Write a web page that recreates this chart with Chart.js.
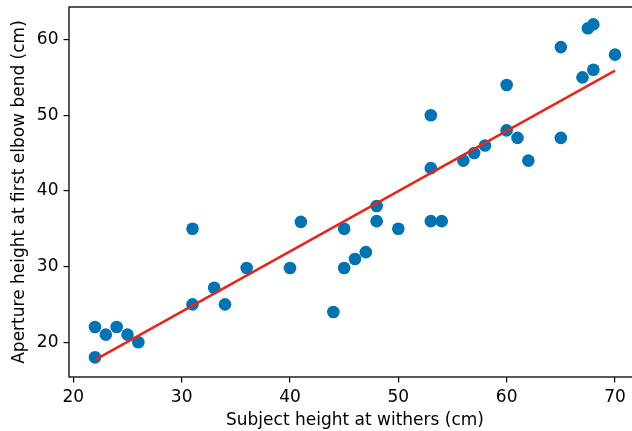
<!DOCTYPE html>
<html>
<head>
<meta charset="utf-8">
<script src="https://cdn.jsdelivr.net/npm/chart.js@4.4.1/dist/chart.umd.min.js"></script>
<style>
  html, body { margin: 0; padding: 0; background: #fff; overflow: hidden; }
  #wrap { width: 650px; height: 431px; }
</style>
</head>
<body>
<div id="wrap"><canvas id="c"></canvas></div>
<script>
/* ── Data ──────────────────────────────────────────────────────────── */
const withers = [22, 22, 23, 24, 25, 26, 31, 31, 33, 34, 36, 40, 41, 44, 45, 45, 46, 47, 48, 48,
                 50, 53, 53, 53, 54, 56, 57, 58, 60, 60, 61, 62, 65, 65, 67, 68, 67.5, 68, 70];
const elbow   = [22, 18, 21, 22, 21, 20, 35, 25, 27.2, 25, 29.8, 29.8, 35.9, 24, 35, 29.8, 31, 31.9, 38, 36,
                 35, 50, 43, 36, 36, 44, 45, 46, 48, 54, 47, 44, 59, 47, 55, 56, 61.5, 62, 58];
const fitX    = [22, 70];
const fitY    = [17.65, 55.9];
const xTicks  = [20, 30, 40, 50, 60, 70];
const yTicks  = [20, 30, 40, 50, 60];

const FONT = "'DejaVu Sans', sans-serif";
const FS   = 17;

/* ── Box around the plot area (matplotlib spines) ─────────────────── */
const frame = {
    id: 'frame',
    afterDatasetsDraw(chart) {
        const { ctx, chartArea: a } = chart;
        ctx.save();
        ctx.strokeStyle = '#000';
        ctx.lineWidth = 1.3;
        ctx.strokeRect(a.left, a.top, a.right - a.left, a.bottom - a.top);
        ctx.restore();
    },
};

/* no extra room for half-labels at the ends of the axes */
const noEdgePad = s => { s.paddingTop = 0; s.paddingBottom = 0; s.paddingLeft = 0; s.paddingRight = 0; };

new Chart(document.getElementById('c'), {
    type: 'scatter',
    data: {
        datasets: [
            {
                label: 'fit',
                type: 'line',
                data: fitX.map((x, i) => ({ x, y: fitY[i] })),
                borderColor: '#e8261f',
                borderWidth: 2.6,
                pointRadius: 0,
                fill: false,
                order: 1,
            },
            {
                label: 'subjects',
                data: withers.map((x, i) => ({ x, y: elbow[i] })),
                backgroundColor: '#0173b2',
                borderWidth: 0,
                pointRadius: 6.3,
                order: 2,
            },
        ],
    },
    options: {
        responsive: true,
        maintainAspectRatio: false,
        animation: false,
        layout: { padding: { top: 7, right: 9, left: 0, bottom: 0 } },
        plugins: { legend: { display: false }, tooltip: { enabled: false } },
        scales: {
            x: {
                type: 'linear',
                min: 19.6, max: 72.4,
                afterBuildTicks: s => { s.ticks = xTicks.map(v => ({ value: v })); },
                afterFit: s => { s.height = 54; noEdgePad(s); },
                grid: { drawOnChartArea: false, drawTicks: true, tickLength: 5.5, color: '#000', lineWidth: 1.2 },
                border: { display: false },
                ticks: { color: '#000', font: { family: FONT, size: FS }, padding: 5, maxRotation: 0 },
                title: { display: true, text: 'Subject height at withers (cm)', color: '#000',
                         font: { family: FONT, size: FS }, padding: { top: 0, bottom: 0 } },
            },
            y: {
                type: 'linear',
                min: 15.4, max: 64.3,
                afterBuildTicks: s => { s.ticks = yTicks.map(v => ({ value: v })); },
                afterFit: s => { s.width = 69; noEdgePad(s); },
                grid: { drawOnChartArea: false, drawTicks: true, tickLength: 5.5, color: '#000', lineWidth: 1.2 },
                border: { display: false },
                ticks: { color: '#000', font: { family: FONT, size: FS }, padding: 5 },
                title: { display: true, text: 'Aperture height at first elbow bend (cm)', color: '#000',
                         font: { family: FONT, size: FS }, padding: { top: 9, bottom: 0 } },
            },
        },
    },
    plugins: [frame],
});
</script>
</body>
</html>
